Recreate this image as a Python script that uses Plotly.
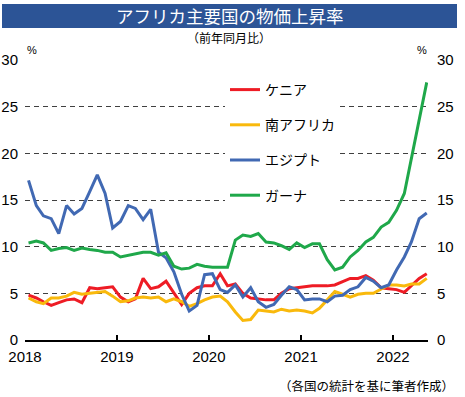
import pandas as pd
import plotly.graph_objects as go

months = pd.date_range("2018-01-01", "2022-05-01", freq="MS") + pd.Timedelta(days=14)

kenya = [4.8, 4.5, 4.1, 3.7, 4.0, 4.3, 4.4, 4.0, 5.6, 5.5, 5.6, 5.7,
         4.6, 4.1, 4.4, 6.6, 5.5, 5.7, 6.3, 5.0, 3.8, 5.0, 5.6, 5.8,
         5.8, 7.1, 5.8, 6.0, 5.0, 4.5, 4.4, 4.3, 4.3, 5.0, 5.5, 5.6,
         5.7, 5.8, 5.8, 5.8, 5.9, 6.3, 6.6, 6.6, 6.9, 6.4, 5.6, 5.5,
         5.4, 5.1, 5.8, 6.6, 7.1]
south_africa = [4.5, 4.1, 3.9, 4.5, 4.5, 4.7, 5.1, 4.9, 5.0, 5.1, 5.2, 4.7,
                4.1, 4.2, 4.5, 4.6, 4.5, 4.6, 4.1, 4.4, 4.1, 3.6, 3.9, 4.3,
                4.6, 4.7, 4.1, 3.0, 2.1, 2.2, 3.2, 3.1, 3.0, 3.3, 3.1, 3.2,
                3.1, 2.9, 3.4, 4.3, 5.2, 4.9, 4.6, 4.9, 5.0, 5.0, 5.5, 5.9,
                5.9, 5.8, 6.0, 6.0, 6.6]
egypt = [17.1, 14.4, 13.3, 13.0, 11.4, 14.4, 13.5, 14.1, 15.9, 17.7, 15.7, 12.0,
         12.7, 14.4, 14.1, 12.9, 14.0, 9.4, 8.8, 7.3, 4.9, 3.1, 3.7, 7.0,
         7.1, 5.4, 5.1, 5.9, 4.6, 5.6, 4.1, 3.5, 3.8, 4.8, 5.7, 5.4,
         4.3, 4.4, 4.4, 4.1, 4.7, 4.8, 5.4, 5.7, 6.7, 6.3, 5.6, 5.9,
         7.5, 8.9, 10.5, 13.0, 13.6]
ghana = [10.4, 10.6, 10.4, 9.6, 9.8, 9.9, 9.6, 9.85, 9.7, 9.6, 9.4, 9.4,
         8.9, 9.1, 9.2, 9.4, 9.4, 9.1, 9.35, 7.9, 7.6, 7.7, 8.1, 7.9,
         7.8, 7.8, 7.8, 10.7, 11.25, 11.1, 11.4, 10.5, 10.4, 10.1, 9.7, 10.4,
         9.9, 10.3, 10.3, 8.6, 7.5, 7.8, 8.9, 9.6, 10.5, 11.0, 12.1, 12.6,
         13.9, 15.7, 19.4, 23.6, 27.6]

names = ["ケニア", "南アフリカ", "エジプト", "ガーナ"]
series = [kenya, south_africa, egypt, ghana]
colors = ["#ee1c25", "#f9b90c", "#4169b3", "#1fa84a"]

y_ticks = [0, 5, 10, 15, 20, 25, 30]
year_ticks = ["2018-01-01", "2019-01-01", "2020-01-01", "2021-01-01", "2022-01-01"]
year_labels = ["2018", "2019", "2020", "2021", "2022"]

JP = "Noto Sans CJK JP"
NUM = "Liberation Sans Narrow, Liberation Sans, Arial"

fig = go.Figure()
for i, (nm, vals, col) in enumerate(zip(names, series, colors)):
    fig.add_trace(go.Scatter(x=months, y=vals, name=nm, mode="lines",
                             line=dict(color=col, width=3),
                             legendgroup=f"g{i}"))
# right-hand axis carrier (no visible marks)
fig.add_trace(go.Scatter(x=[months[0]], y=[y_ticks[0]], yaxis="y2", mode="lines",
                         line=dict(width=0), showlegend=False, hoverinfo="skip"))

W, H = 465, 397
L, R, T, B = 25, 37, 60, 57
pw, ph = W - L - R, H - T - B

def px(x):
    return (x - L) / pw

def py(y):
    return (H - B - y) / ph

fig.update_layout(
    width=W, height=H,
    margin=dict(l=L, r=R, t=T, b=B, autoexpand=False),
    paper_bgcolor="white", plot_bgcolor="white",
    font=dict(family=JP, color="black"),
    showlegend=True,
    legend=dict(x=px(225), y=py(74), xanchor="left", yanchor="top",
                bgcolor="white", borderwidth=0,
                font=dict(family=JP, size=14, color="black"),
                traceorder="grouped", tracegroupgap=14, itemwidth=30),
    xaxis=dict(type="date", range=["2018-01-01", "2022-05-20"],
               tickvals=year_ticks, ticktext=year_labels, automargin=False,
               showgrid=False, zeroline=False,
               showline=True, linecolor="black", linewidth=1.5,
               ticks="inside", ticklen=5, tickcolor="black", tickwidth=1.5,
               ticklabelstandoff=2,
               tickfont=dict(family=NUM, size=15, color="black")),
    yaxis=dict(range=[0, 30], tickvals=y_ticks, showgrid=True, automargin=False,
               gridcolor="#404040", gridwidth=1, griddash="5px,4px",
               zeroline=False, showline=False, ticks="",
               ticklabelstandoff=6,
               tickfont=dict(family=NUM, size=15, color="black")),
    yaxis2=dict(range=[0, 30], tickvals=y_ticks, overlaying="y", side="right",
                showgrid=False, zeroline=False, showline=False, ticks="",
                ticklabelstandoff=8, automargin=False,
                tickfont=dict(family=NUM, size=15, color="black")),
)

fig.add_shape(type="rect", xref="paper", yref="paper",
              x0=px(2), x1=px(457), y0=py(28), y1=py(4),
              fillcolor="#2c5496", line=dict(width=0), layer="above")

fig.add_annotation(text="アフリカ主要国の物価上昇率", xref="paper", yref="paper",
                   x=px(230), y=py(16), xanchor="center", yanchor="middle",
                   showarrow=False, font=dict(family=JP, size=17.5, color="white"))
fig.add_annotation(text="（前年同月比）", xref="paper", yref="paper",
                   x=px(229), y=py(37), xanchor="center", yanchor="middle",
                   showarrow=False, font=dict(family=JP, size=12, color="black"))
fig.add_annotation(text="%", xref="paper", yref="paper",
                   x=px(32), y=py(50), xanchor="center", yanchor="middle",
                   showarrow=False, font=dict(family="Liberation Sans", size=11, color="black"))
fig.add_annotation(text="%", xref="paper", yref="paper",
                   x=px(422), y=py(50), xanchor="center", yanchor="middle",
                   showarrow=False, font=dict(family="Liberation Sans", size=11, color="black"))
fig.add_annotation(text="（各国の統計を基に筆者作成）", xref="paper", yref="paper",
                   x=px(456), y=py(385), xanchor="right", yanchor="middle",
                   showarrow=False, font=dict(family=JP, size=12.5, color="black"))

fig.write_html("out.html", config={"displayModeBar": False},
               post_script="document.body.style.margin='0px';document.body.style.padding='0px';")
